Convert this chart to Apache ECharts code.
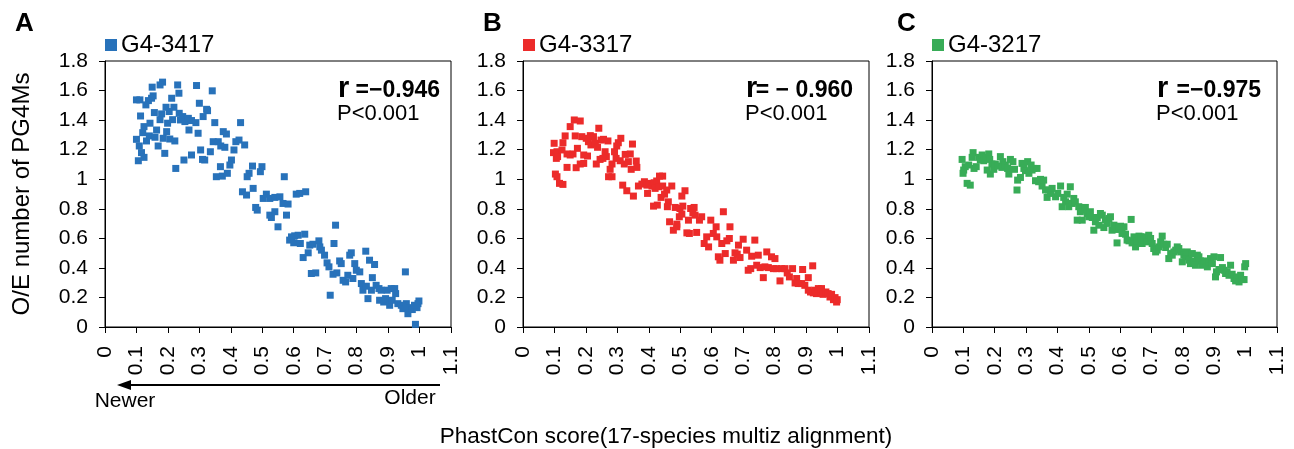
<!DOCTYPE html>
<html><head><meta charset="utf-8">
<script src="https://cdn.jsdelivr.net/npm/echarts@6/dist/echarts.min.js"></script>
<style>html,body{margin:0;padding:0;background:#fff}#c{width:1294px;height:449px}</style>
</head><body><div id="c"></div>
<script>
const xTickLabels = ['0','0.1','0.2','0.3','0.4','0.5','0.6','0.7','0.8','0.9','1','1.1'];
const yTickLabels = ['0','0.2','0.4','0.6','0.8','1','1.2','1.4','1.6','1.8'];
const seriesNames = ['G4-3417','G4-3317','G4-3217'];
const panelLetters = ['A','B','C'];
const rValues = ['=\u22120.946','= \u2212 0.960','=\u22120.975'];
const pText = 'P<0.001';
const xTitle = 'PhastCon score(17-species multiz alignment)';
const yTitle = 'O/E number of PG4Ms';
const arrowLabels = ['Newer','Older'];

const pointsA = [
[0.183,1.657],[0.175,1.638],[0.150,1.623],[0.231,1.638],[0.291,1.634],[0.235,1.582],[0.341,1.598],
[0.100,1.537],[0.111,1.537],[0.153,1.564],[0.148,1.548],[0.138,1.532],[0.130,1.503],[0.212,1.548],
[0.300,1.514],[0.194,1.487],[0.219,1.487],[0.157,1.451],[0.113,1.428],[0.180,1.442],[0.204,1.458],
[0.323,1.473],[0.326,1.464],[0.236,1.446],[0.247,1.424],[0.240,1.401],[0.254,1.390],[0.265,1.412],
[0.275,1.397],[0.289,1.383],[0.312,1.424],[0.175,1.403],[0.215,1.403],[0.199,1.379],[0.143,1.379],
[0.349,1.383],[0.431,1.383],[0.124,1.356],[0.164,1.333],[0.196,1.322],[0.267,1.333],[0.296,1.311],
[0.376,1.322],[0.386,1.306],[0.120,1.315],[0.100,1.270],[0.109,1.225],[0.132,1.259],[0.141,1.293],
[0.159,1.284],[0.185,1.277],[0.206,1.272],[0.222,1.259],[0.169,1.225],[0.116,1.180],[0.124,1.148],
[0.106,1.125],[0.190,1.175],[0.251,1.130],[0.225,1.073],[0.275,1.164],[0.304,1.198],[0.317,1.130],
[0.310,1.134],[0.335,1.186],[0.344,1.254],[0.360,1.254],[0.368,1.225],[0.381,1.216],[0.410,1.198],
[0.416,1.254],[0.426,1.265],[0.444,1.232],[0.402,1.130],[0.397,1.096],[0.367,1.085],[0.354,1.017],
[0.373,1.021],[0.389,1.040],[0.469,1.089],[0.499,1.085],[0.494,1.051],[0.458,1.040],[0.452,1.017],
[0.570,1.017],[0.437,0.915],[0.450,0.893],[0.471,0.938],[0.479,0.809],[0.484,0.791],[0.503,0.870],
[0.513,0.899],[0.524,0.870],[0.540,0.877],[0.556,0.881],[0.566,0.836],[0.582,0.832],[0.524,0.757],
[0.529,0.741],[0.540,0.780],[0.550,0.678],[0.577,0.757],[0.608,0.899],[0.619,0.904],[0.638,0.915],
[0.587,0.588],[0.593,0.610],[0.603,0.617],[0.614,0.621],[0.600,0.570],[0.621,0.565],[0.635,0.628],
[0.630,0.470],[0.646,0.502],[0.651,0.554],[0.656,0.362],[0.670,0.366],[0.661,0.560],[0.680,0.583],
[0.683,0.542],[0.688,0.520],[0.698,0.486],[0.706,0.434],[0.712,0.407],[0.725,0.357],[0.733,0.689],
[0.728,0.565],[0.737,0.366],[0.716,0.215],[0.746,0.447],[0.751,0.429],[0.757,0.316],[0.765,0.305],
[0.772,0.350],[0.778,0.486],[0.783,0.502],[0.788,0.328],[0.794,0.429],[0.799,0.384],[0.810,0.373],
[0.815,0.294],[0.820,0.249],[0.829,0.513],[0.831,0.276],[0.841,0.452],[0.847,0.249],[0.850,0.334],
[0.857,0.423],[0.836,0.192],[0.862,0.282],[0.871,0.260],[0.873,0.181],[0.878,0.249],[0.886,0.169],
[0.892,0.192],[0.897,0.249],[0.905,0.147],[0.910,0.260],[0.913,0.181],[0.921,0.260],[0.924,0.226],
[0.931,0.158],[0.942,0.147],[0.947,0.124],[0.955,0.373],[0.958,0.158],[0.963,0.090],[0.968,0.131],
[0.977,0.118],[0.987,0.018],[0.992,0.131],[0.995,0.158],[0.998,0.176],[0.984,0.147]
];

const pointsB = [
[0.163,1.401],[0.182,1.394],[0.150,1.356],[0.241,1.345],[0.134,1.293],[0.166,1.293],[0.187,1.288],
[0.201,1.277],[0.214,1.295],[0.224,1.288],[0.248,1.265],[0.270,1.259],[0.256,1.270],[0.099,1.243],
[0.127,1.247],[0.208,1.254],[0.216,1.232],[0.230,1.243],[0.237,1.216],[0.303,1.247],[0.311,1.277],
[0.348,1.238],[0.298,1.225],[0.173,1.209],[0.097,1.180],[0.108,1.186],[0.124,1.198],[0.140,1.171],
[0.150,1.164],[0.159,1.171],[0.193,1.164],[0.205,1.157],[0.261,1.186],[0.265,1.153],[0.291,1.186],
[0.325,1.168],[0.341,1.171],[0.106,1.141],[0.110,1.153],[0.245,1.134],[0.254,1.141],[0.296,1.141],
[0.309,1.125],[0.322,1.103],[0.335,1.119],[0.360,1.123],[0.182,1.103],[0.193,1.107],[0.169,1.078],
[0.140,1.080],[0.233,1.103],[0.283,1.103],[0.277,1.067],[0.344,1.067],[0.362,1.080],[0.103,1.035],
[0.108,1.017],[0.116,0.972],[0.127,0.965],[0.272,1.017],[0.283,1.017],[0.317,0.960],[0.330,0.922],
[0.351,0.886],[0.367,0.954],[0.378,0.967],[0.386,0.983],[0.394,0.960],[0.402,0.972],[0.410,0.954],
[0.417,0.976],[0.425,0.988],[0.434,1.021],[0.444,1.021],[0.396,0.904],[0.420,0.938],[0.431,0.949],
[0.444,0.954],[0.457,0.927],[0.473,0.954],[0.439,0.877],[0.450,0.899],[0.462,0.847],[0.415,0.818],
[0.427,0.825],[0.459,0.814],[0.484,0.809],[0.499,0.802],[0.508,0.818],[0.515,0.922],[0.505,0.886],
[0.466,0.712],[0.478,0.655],[0.489,0.696],[0.489,0.678],[0.497,0.746],[0.505,0.764],[0.521,0.637],
[0.529,0.633],[0.526,0.723],[0.533,0.802],[0.544,0.809],[0.540,0.773],[0.547,0.757],[0.552,0.640],
[0.561,0.723],[0.568,0.746],[0.576,0.565],[0.590,0.542],[0.584,0.610],[0.597,0.723],[0.605,0.633],
[0.614,0.678],[0.616,0.610],[0.621,0.475],[0.626,0.452],[0.637,0.780],[0.632,0.565],[0.643,0.497],
[0.648,0.583],[0.656,0.599],[0.658,0.678],[0.669,0.452],[0.674,0.502],[0.681,0.493],[0.685,0.554],
[0.690,0.470],[0.700,0.594],[0.711,0.520],[0.716,0.384],[0.724,0.395],[0.727,0.479],[0.737,0.588],
[0.743,0.418],[0.748,0.486],[0.754,0.402],[0.764,0.334],[0.769,0.407],[0.775,0.508],[0.780,0.402],
[0.790,0.475],[0.796,0.395],[0.801,0.463],[0.806,0.395],[0.817,0.312],[0.822,0.395],[0.833,0.395],
[0.840,0.366],[0.847,0.339],[0.857,0.395],[0.865,0.298],[0.870,0.328],[0.875,0.294],[0.889,0.389],
[0.886,0.294],[0.896,0.282],[0.907,0.334],[0.907,0.249],[0.914,0.237],[0.921,0.414],[0.923,0.231],
[0.928,0.249],[0.933,0.226],[0.939,0.260],[0.946,0.237],[0.949,0.260],[0.954,0.221],[0.963,0.237],
[0.970,0.226],[0.976,0.203],[0.981,0.221],[0.987,0.185],[0.992,0.199],[0.997,0.169],[0.999,0.185]
];

const pointsC = [
[0.096,1.134],[0.101,1.062],[0.099,1.040],[0.112,0.972],[0.122,0.960],[0.106,1.085],[0.117,1.096],
[0.131,1.180],[0.128,1.148],[0.134,1.073],[0.141,1.085],[0.149,1.148],[0.154,1.130],[0.160,1.164],
[0.165,1.125],[0.173,1.148],[0.181,1.171],[0.184,1.134],[0.191,1.103],[0.176,1.062],[0.186,1.035],
[0.197,1.067],[0.202,1.103],[0.210,1.089],[0.218,1.153],[0.226,1.119],[0.223,1.080],[0.234,1.096],
[0.241,1.073],[0.245,1.035],[0.250,1.134],[0.258,1.119],[0.263,1.067],[0.271,0.927],[0.273,0.994],
[0.282,1.012],[0.287,1.107],[0.293,1.073],[0.298,1.058],[0.305,1.119],[0.309,1.040],[0.316,1.096],
[0.319,1.062],[0.324,1.073],[0.335,1.073],[0.330,0.990],[0.340,0.983],[0.346,0.999],[0.351,0.954],
[0.356,0.994],[0.362,0.927],[0.367,0.877],[0.372,0.927],[0.378,0.904],[0.383,0.938],[0.394,0.881],
[0.401,0.904],[0.410,0.954],[0.415,0.814],[0.420,0.877],[0.426,0.847],[0.431,0.899],[0.436,0.814],
[0.441,0.949],[0.447,0.836],[0.452,0.870],[0.457,0.847],[0.463,0.723],[0.468,0.814],[0.473,0.780],
[0.479,0.723],[0.484,0.791],[0.489,0.809],[0.495,0.768],[0.500,0.746],[0.505,0.780],[0.511,0.741],
[0.516,0.655],[0.521,0.712],[0.527,0.741],[0.532,0.689],[0.537,0.768],[0.543,0.757],[0.548,0.673],
[0.553,0.723],[0.559,0.701],[0.564,0.734],[0.569,0.746],[0.574,0.655],[0.580,0.689],[0.585,0.660],
[0.590,0.569],[0.596,0.678],[0.601,0.682],[0.612,0.678],[0.606,0.633],[0.617,0.628],[0.622,0.588],
[0.628,0.583],[0.635,0.728],[0.638,0.569],[0.644,0.610],[0.649,0.542],[0.654,0.583],[0.660,0.615],
[0.665,0.610],[0.670,0.565],[0.676,0.588],[0.681,0.610],[0.686,0.576],[0.691,0.621],[0.697,0.599],
[0.702,0.565],[0.707,0.531],[0.713,0.508],[0.718,0.520],[0.723,0.542],[0.729,0.576],[0.734,0.615],
[0.739,0.560],[0.745,0.538],[0.750,0.560],[0.755,0.463],[0.761,0.497],[0.766,0.486],[0.771,0.508],
[0.777,0.520],[0.782,0.542],[0.787,0.531],[0.793,0.508],[0.798,0.441],[0.803,0.486],[0.809,0.475],
[0.814,0.508],[0.819,0.452],[0.824,0.429],[0.830,0.497],[0.835,0.447],[0.840,0.418],[0.846,0.486],
[0.851,0.475],[0.856,0.447],[0.862,0.418],[0.867,0.429],[0.872,0.447],[0.878,0.407],[0.883,0.441],
[0.888,0.463],[0.894,0.429],[0.899,0.475],[0.904,0.339],[0.907,0.373],[0.915,0.389],[0.920,0.470],
[0.926,0.402],[0.931,0.384],[0.936,0.362],[0.941,0.373],[0.947,0.350],[0.952,0.418],[0.957,0.357],
[0.963,0.328],[0.968,0.312],[0.973,0.339],[0.979,0.305],[0.984,0.350],[0.989,0.321],[0.995,0.321],
[0.997,0.407],[1.000,0.429]
];

const colors = ['#2872BA','#EC2B2A','#38AC57'];
const FONT = '"Liberation Sans", Arial, sans-serif';
const gridLefts = [105, 523, 932];
const gridWidths = [346, 346, 345];
const dataSets = [pointsA, pointsB, pointsC];
const rLeft = [338, 746, 1157];
const rRight = [440, 853, 1261];
const letterX = [15, 483, 897];

const chart = echarts.init(document.getElementById('c'), null, {renderer:'canvas'});
const grids = [], xAxes = [], yAxes = [], series = [], legends = [], graphics = [];
for (let i = 0; i < 3; i++) {
  grids.push({left: gridLefts[i], top: 61, width: gridWidths[i], height: 266, show: true,
    borderColor: '#000', borderWidth: 1, backgroundColor: 'transparent'});
  xAxes.push({type:'value', gridIndex:i, min:0, max:1.1, interval:0.1,
    axisLine:{show:true, onZero:false, lineStyle:{color:'#000', width:1}},
    axisTick:{show:true, inside:false, length:6, lineStyle:{color:'#000'}},
    splitLine:{show:false},
    axisLabel:{rotate:90, margin:19, color:'#000', fontSize:21, fontFamily:FONT,
      formatter: v => xTickLabels[Math.round(v*10)]}});
  yAxes.push({type:'value', gridIndex:i, min:0, max:1.8, interval:0.2,
    axisLine:{show:true, onZero:false, lineStyle:{color:'#000', width:1}},
    axisTick:{show:true, inside:false, length:6, lineStyle:{color:'#000'}},
    splitLine:{show:false},
    axisLabel:{margin:17, color:'#000', fontSize:21, fontFamily:FONT,
      formatter: v => yTickLabels[Math.round(v*5)]}});
  series.push({type:'scatter', name: seriesNames[i], xAxisIndex:i, yAxisIndex:i,
    symbol:'rect', symbolSize:7, itemStyle:{color: colors[i], opacity:1},
    data: dataSets[i], silent:true, animation:false});
  legends.push({data:[seriesNames[i]], left: gridLefts[i], top: 33, padding:0,
    icon:'rect', itemWidth:12, itemHeight:12, itemGap:4,
    textStyle:{fontSize:24, color:'#000', fontFamily:FONT, padding:[0,0,0,-1]}});
  graphics.push({type:'text', left: letterX[i], top: 11,
    style:{text: panelLetters[i], font:'bold 26px ' + FONT, fill:'#000'}});
  graphics.push({type:'text', x: rLeft[i], y: 89,
    style:{text:'r', font:'bold 29px ' + FONT, fill:'#000', textAlign:'left', textVerticalAlign:'middle'}});
  graphics.push({type:'text', x: rRight[i], y: 91,
    style:{text: rValues[i], font:'bold 23px ' + FONT, fill:'#000', textAlign:'right', textVerticalAlign:'middle'}});
  graphics.push({type:'text', x: rLeft[i] - 1, y: 114,
    style:{text: pText, font:'22px ' + FONT, fill:'#000', textAlign:'left', textVerticalAlign:'middle'}});
}
// axis titles
graphics.push({type:'text', x: 22, y: 194, rotation: Math.PI/2,
  style:{text: yTitle, font:'24px ' + FONT, fill:'#000', textAlign:'center', textVerticalAlign:'middle'}});
graphics.push({type:'text', x: 666, y: 437,
  style:{text: xTitle, font:'22.5px ' + FONT, fill:'#000', textAlign:'center', textVerticalAlign:'middle'}});
// arrow
graphics.push({type:'line', shape:{x1:440, y1:385, x2:128, y2:385}, style:{stroke:'#000', lineWidth:2}});
graphics.push({type:'polygon', shape:{points:[[117,385],[131,380],[131,390]]}, style:{fill:'#000'}});
graphics.push({type:'text', x: 125, y: 401,
  style:{text: arrowLabels[0], font:'21px ' + FONT, fill:'#000', textAlign:'center', textVerticalAlign:'middle'}});
graphics.push({type:'text', x: 410, y: 398,
  style:{text: arrowLabels[1], font:'21px ' + FONT, fill:'#000', textAlign:'center', textVerticalAlign:'middle'}});

chart.setOption({
  animation:false,
  backgroundColor:'#fff',
  grid: grids, xAxis: xAxes, yAxis: yAxes, series: series, legend: legends,
  graphic: graphics
});
</script>
</body></html>
